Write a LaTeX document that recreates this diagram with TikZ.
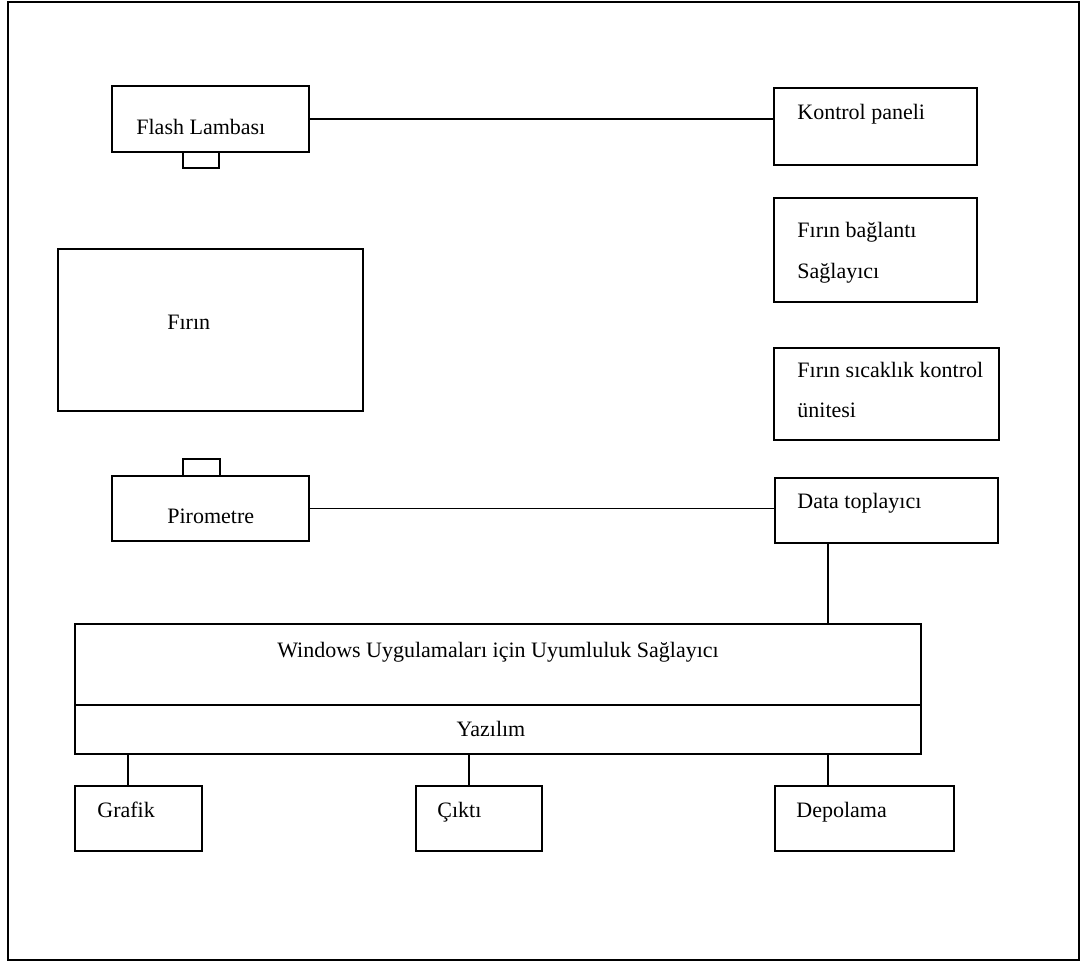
\documentclass[tikz,border=0pt]{standalone}
\usepackage{fontspec}
\setmainfont{Liberation Serif}
\usetikzlibrary{fit}
\tikzset{
    blok/.style = {draw, line width = 0.9pt, inner sep = 0pt},
    yazi/.style = {anchor = base west, inner sep = 0pt, font = \fontsize{11}{13}\selectfont},
    orta/.style = {yazi, anchor = base},
    hat/.style = {line width = 0.9pt}
}
\begin{document}
\begin{tikzpicture}[x = 0.5pt, y = -0.5pt]
    \useasboundingbox (0, 0) rectangle (1083, 965);
    \draw[line width = 1pt] (8, 2) rectangle (1079, 960);
    % left column: lamp, oven, pyrometer
    \node[blok, fit = {(112, 86) (309, 152)}] (flash) {};
    \node[blok, fit = {(183, 152) (219, 168)}] (flashuc) {};
    \node[blok, fit = {(58, 249) (363, 411)}] (firin) {};
    \node[blok, fit = {(183, 459) (220, 476)}] (pirouc) {};
    \node[blok, fit = {(112, 476) (309, 541)}] (piro) {};
    % right column
    \node[blok, fit = {(774, 88) (977, 165)}] (kontrol) {};
    \node[blok, fit = {(774, 198) (977, 302)}] (baglanti) {};
    \node[blok, fit = {(774, 348) (999, 440)}] (sicaklik) {};
    \node[blok, fit = {(775, 478) (998, 543)}] (data) {};
    % software layer and outputs
    \node[blok, fit = {(75, 624) (921, 705)}] (windows) {};
    \node[blok, fit = {(75, 705) (921, 754)}] (yazilim) {};
    \node[blok, fit = {(75, 786) (202, 851)}] (grafik) {};
    \node[blok, fit = {(416, 786) (542, 851)}] (cikti) {};
    \node[blok, fit = {(775, 786) (954, 851)}] (depo) {};
    % texts
    \node[yazi] (tflash) at (136, 134) {Flash Lambası};
    \node[yazi] (tfirin) at (167, 329) {Fırın};
    \node[yazi] (tpiro) at (167, 523) {Pirometre};
    \node[yazi] (tkontrol) at (797, 119) {Kontrol paneli};
    \node[yazi] (tbag1) at (797, 237) {Fırın bağlantı};
    \node[yazi] (tbag2) at (797, 278) {Sağlayıcı};
    \node[yazi] (tsic1) at (797, 377) {Fırın sıcaklık kontrol};
    \node[yazi] (tsic2) at (797, 417) {ünitesi};
    \node[yazi] (tdata) at (797, 508) {Data toplayıcı};
    \node[orta] (twin) at (498, 657) {Windows Uygulamaları için Uyumluluk Sağlayıcı};
    \node[orta] (tyaz) at (491, 736) {Yazılım};
    \node[yazi] (tgrafik) at (97, 817) {Grafik};
    \node[yazi] (tcikti) at (437, 817) {Çıktı};
    \node[yazi] (tdepo) at (796, 817) {Depolama};
    % connectors
    \draw[hat] (flash.east) -- (flash.east -| kontrol.west);
    \draw[hat] (piro.east) -- (piro.east -| data.west);
    \path (data.south west) ++(54, 0) coordinate (data alt);
    \draw[hat] (data alt) -- (data alt |- windows.north);
    \foreach \k in {grafik, cikti, depo}{
        \path (\k.north west) ++(54, 0) coordinate (\k ust);
        \draw[hat] (\k ust) -- (\k ust |- yazilim.south);
    }
\end{tikzpicture}
\end{document}
